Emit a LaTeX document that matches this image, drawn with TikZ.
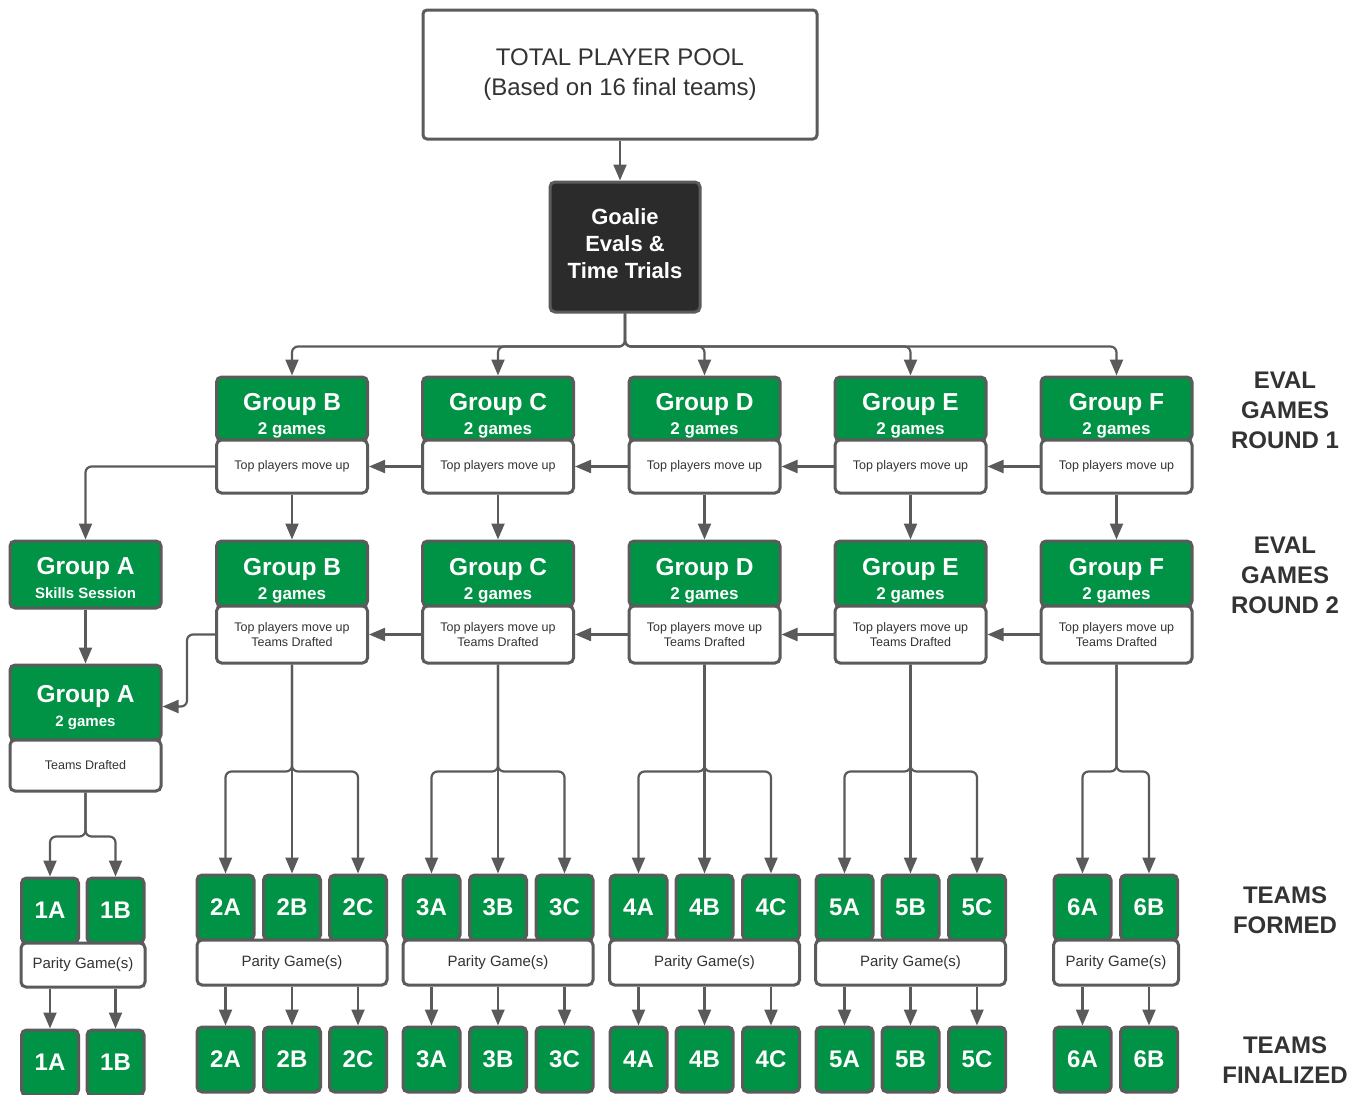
\documentclass[tikz,border=0pt]{standalone}
\usepackage{fontspec}
\setmainfont{Liberation Sans}
\usetikzlibrary{arrows.meta,calc}
\definecolor{grn}{HTML}{009245}
\definecolor{bord}{HTML}{5B5B5B}
\definecolor{lin}{HTML}{5A5A5A}
\definecolor{txt}{HTML}{333333}
\definecolor{dark}{HTML}{2B2B2B}
\newcommand{\fsz}[2]{\fontsize{#1}{#2}\selectfont}
\begin{document}
\begin{tikzpicture}[x=1pt,y=-1pt,
 box/.style={draw=bord, line width=3pt, rounded corners=5pt, inner sep=0pt, align=center},
 grnbox/.style={box, fill=grn, text=white, font=\bfseries\fsz{17}{24}},
 whtbox/.style={box, fill=white, text=txt},
 team/.style={box, fill=grn, text=white, font=\bfseries\fsz{24}{26}, minimum width=57pt, minimum height=65pt},
 parity/.style={whtbox, minimum height=45pt, font=\fsz{15}{18}},
 arr/.style={draw=lin, line width=2.2pt, -{Triangle[length=16pt,width=13pt]}, rounded corners=6pt},
 lbl/.style={align=center, text=txt, font=\bfseries\fsz{24}{30}},
]
\useasboundingbox (0,0) rectangle (1363,1095);

% top
\node[whtbox, minimum width=394pt, minimum height=129pt, font=\fsz{24}{30}, rounded corners=4pt] (pool) at (620,74.5) {TOTAL PLAYER POOL\\(Based on 16 final teams)};
\node[box, fill=dark, text=white, font=\bfseries\fsz{22}{27}, minimum width=150pt, minimum height=130pt] (goalie) at (625,247) {Goalie\\Evals \&\\Time Trials\rule[-6pt]{0pt}{6pt}};
\draw[arr] (pool.south) -- (pool.south |- goalie.north);

% groups B..F
\foreach \n/\x in {B/292,C/498,D/704.5,E/910.5,F/1116.5}{
  \node[grnbox, minimum width=151pt, minimum height=63pt] (g1\n) at (\x,408.5)
    {{\fsz{24.5}{26}\rule{0pt}{32pt}Group \n}\\2 games};
  \node[whtbox, minimum width=151pt, minimum height=53pt, font=\fsz{12.5}{15}] (w1\n) at (\x,466.5) {Top players move up};
  \node[grnbox, minimum width=151pt, minimum height=65pt] (g2\n) at (\x,573.5)
    {{\fsz{24.5}{26}\rule{0pt}{31pt}Group \n}\\2 games};
  \node[whtbox, minimum width=151pt, minimum height=57pt, font=\fsz{12.5}{15}] (w2\n) at (\x,634.5) {Top players move up\\Teams Drafted};
  \draw[arr] (w1\n.south) -- (g2\n.north);
  \draw[arr] (goalie.south) -- ++(0,33) -| (g1\n.north);
}
\foreach \a/\b in {F/E,E/D,D/C,C/B}{
  \draw[arr] (w1\a.west) -- (w1\b.east);
  \draw[arr] (w2\a.west) -- (w2\b.east);
}

% group A
\node[grnbox, minimum width=151pt, minimum height=67pt] (gAs) at (85.5,574.5)
  {{\fsz{24.5}{26}\rule{0pt}{25pt}Group A}\\{\fsz{15}{22}Skills Session}};
\node[grnbox, minimum width=151pt, minimum height=75pt] (gA2) at (85.5,702.5)
  {{\fsz{24.5}{26}\rule{0pt}{27pt}Group A}\\{\fsz{15}{24}2 games}};
\node[whtbox, minimum width=151pt, minimum height=51pt, font=\fsz{12.5}{15}] (wA2) at (85.5,765.5) {Teams Drafted};
\draw[arr] (w1B.west) -| (gAs.north);
\draw[arr] (gAs.south) -- (gA2.north);
\draw[arr] (w2B.west) -- ++(-28,0) |- ([yshift=-4pt]gA2.east);

% teams group 1
\node[team] (ta1) at (50,910.5) {1A};
\node[team] (tb1) at (115.5,910.5) {1B};
\node[parity, minimum width=124pt, minimum height=44pt] (p1) at (83,965) {Parity Game(s)};
\node[team] (fa1) at (50,1062.5) {1A};
\node[team] (fb1) at (115.5,1062.5) {1B};
\draw[arr] (wA2.south) -- ++(0,44) -| (ta1.north);
\draw[arr] (wA2.south) -- ++(0,44) -| (tb1.north);
\draw[arr] (fa1.north |- p1.south) -- (fa1.north);
\draw[arr] (fb1.north |- p1.south) -- (fb1.north);

% teams groups 2-5
\foreach \g/\c/\xa/\xb/\xc in {2/B/225.5/292/358, 3/C/431.5/498/564.5, 4/D/638.5/704.5/771, 5/E/844.5/910.5/977}{
  \node[team] (ta\g) at (\xa,907.5) {\g A};
  \node[team] (tb\g) at (\xb,907.5) {\g B};
  \node[team] (tc\g) at (\xc,907.5) {\g C};
  \node[parity, minimum width=190pt] (p\g) at (\xb,962.5) {Parity Game(s)};
  \node[team] (fa\g) at (\xa,1059.5) {\g A};
  \node[team] (fb\g) at (\xb,1059.5) {\g B};
  \node[team] (fc\g) at (\xc,1059.5) {\g C};
  \draw[arr] (w2\c.south) -- ++(0,107) -| (ta\g.north);
  \draw[arr] (w2\c.south) -- (tb\g.north);
  \draw[arr] (w2\c.south) -- ++(0,107) -| (tc\g.north);
  \draw[arr] (fa\g.north |- p\g.south) -- (fa\g.north);
  \draw[arr] (fb\g.north |- p\g.south) -- (fb\g.north);
  \draw[arr] (fc\g.north |- p\g.south) -- (fc\g.north);
}

% teams group 6
\node[team] (ta6) at (1082.5,907.5) {6A};
\node[team] (tb6) at (1149,907.5) {6B};
\node[parity, minimum width=125pt] (p6) at (1116,962.5) {Parity Game(s)};
\node[team] (fa6) at (1082.5,1059.5) {6A};
\node[team] (fb6) at (1149,1059.5) {6B};
\draw[arr] (w2F.south) -- ++(0,107) -| (ta6.north);
\draw[arr] (w2F.south) -- ++(0,107) -| (tb6.north);
\draw[arr] (fa6.north |- p6.south) -- (fa6.north);
\draw[arr] (fb6.north |- p6.south) -- (fb6.north);

% right labels
\node[lbl] (r1) at (1285,410) {EVAL\\GAMES\\ROUND 1};
\node[lbl] (r2) at (1285,575) {EVAL\\GAMES\\ROUND 2};
\node[lbl] (r3) at (1285,910) {TEAMS\\FORMED};
\node[lbl] (r4) at (1285,1060) {TEAMS\\FINALIZED};
\end{tikzpicture}
\end{document}
